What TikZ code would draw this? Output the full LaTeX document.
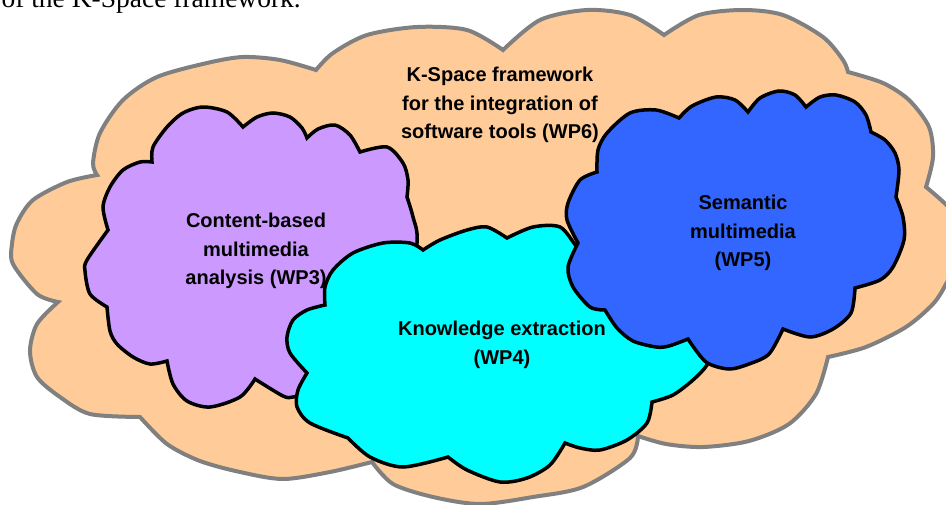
\documentclass[tikz,border=0pt]{standalone}
\usepackage{fontspec}
\usepackage{xcolor}
\setmainfont{Liberation Sans}
\newfontfamily\toptextfont{Liberation Serif}
\definecolor{framepeach}{HTML}{FFCC99}
\definecolor{framegray}{HTML}{808080}
\definecolor{wpviolet}{HTML}{CC99FF}
\definecolor{wpcyan}{HTML}{00FFFF}
\definecolor{wpblue}{HTML}{3366FF}

\begin{document}
\begin{tikzpicture}[x=1pt, y=-1pt,
    framecloud/.style={fill=framepeach, draw=framegray, line width=4pt, miter limit=3},
    wpcloud/.style={draw=black, line width=3.5pt, miter limit=3},
    wplabel/.style={font=\bfseries\fontsize{20}{28.5}\selectfont, align=center}]

  \useasboundingbox (0,0) rectangle (946,504);

  \node[anchor=base west, font=\toptextfont\fontsize{27.5}{30}\selectfont] (caption) at (-2,7)
    {of the K-Space framework.};

  \filldraw[framecloud] (316,70)
    -- plot[smooth] coordinates {(316,70) (333,53) (367,35) (417,27) (467,30) (503,50)}
    -- plot[smooth] coordinates {(503,50) (540,20) (587,10) (630,15) (664,35)}
    -- plot[smooth] coordinates {(664,35) (699,15) (743,10) (783,15) (823,37) (843,60) (848,72)}
    -- plot[smooth] coordinates {(848,72) (883,83) (909,100) (929,127) (933,157) (926,187)}
    -- plot[smooth] coordinates {(926,187) (955,215) (962,250) (946,284) (933,304) (906,327) (866,347) (828,357)}
    -- plot[smooth] coordinates {(828,357) (816,394) (789,424) (749,441) (703,447) (666,444) (638,436)}
    -- plot[smooth] coordinates {(638,436) (630,458) (583,487) (533,497) (480,504) (433,497) (393,484) (372,462)}
    -- plot[smooth] coordinates {(372,462) (330,472) (283,479) (240,472) (200,461) (167,444) (140,417)}
    -- plot[smooth] coordinates {(140,417) (90,414) (60,397) (37,377) (30,351) (37,324) (58,302)}
    -- plot[smooth] coordinates {(58,302) (37,294) (13,264) (12,244) (17,223) (33,200) (67,182) (97,175)}
    -- plot[smooth] coordinates {(97,175) (93,163) (100,133) (123,100) (157,77) (207,63) (243,57) (280,60) (316,70)}
    -- cycle;
  \node[wplabel] (wp6) at (500,105.3)
    {K-Space framework\\for the integration of\\software tools (WP6)};

  \filldraw[wpcloud, fill=wpviolet] (152,162)
    -- plot[smooth] coordinates {(152,162) (153,147) (167,127) (183,113) (203,107) (227,112) (243,127)}
    -- plot[smooth] coordinates {(243,127) (257,117) (273,113) (290,117) (302,128) (307,138)}
    -- plot[smooth] coordinates {(307,138) (318,129) (335,125) (350,135) (360,152)}
    -- plot[smooth] coordinates {(360,152) (387,147) (403,163) (408,180) (407,197)}
    -- plot[smooth] coordinates {(407,197) (413,217) (417,243) (405,320) (360,380) (315,392)}
    -- plot[smooth] coordinates {(315,392) (293,397) (283,396) (255,379)}
    -- plot[smooth] coordinates {(255,379) (240,397) (210,407) (187,401) (173,384) (167,361)}
    -- plot[smooth] coordinates {(167,361) (150,364) (133,357) (117,344) (110,331) (107,307)}
    -- plot[smooth] coordinates {(107,307) (90,294) (85,271) (87,260) (108,230)}
    -- plot[smooth] coordinates {(108,230) (103,207) (110,187) (123,170) (140,162) (152,162)}
    -- cycle;
  \node[wplabel] (wp3) at (256,251.3)
    {Content-based\\multimedia\\analysis (WP3)};

  \filldraw[wpcloud, fill=wpcyan] (325,305)
    -- plot[smooth] coordinates {(325,305) (325,287) (333,270) (353,253) (383,243) (410,243) (423,250)}
    -- plot[smooth] coordinates {(423,250) (440,240) (467,230) (487,227) (507,238)}
    -- plot[smooth] coordinates {(507,238) (533,227) (560,227) (577,247) (595,265)}
    -- plot[smooth] coordinates {(595,265) (680,290) (715,345)}
    -- plot[smooth] coordinates {(715,345) (707,365) (693,380) (673,395) (652,402)}
    -- plot[smooth] coordinates {(652,402) (647,423) (627,440) (600,450) (580,448) (565,443)}
    -- plot[smooth] coordinates {(565,443) (550,465) (527,478) (500,482) (467,470) (448,457)}
    -- plot[smooth] coordinates {(448,457) (403,467) (370,457) (348,438)}
    -- plot[smooth] coordinates {(348,438) (310,423) (297,407) (298,390) (307,373)}
    -- plot[smooth] coordinates {(307,373) (290,353) (287,337) (293,320) (307,310) (325,305)}
    -- cycle;
  \node[wplabel] (wp4) at (502,345)
    {Knowledge extraction\\(WP4)};

  \filldraw[wpcloud, fill=wpblue] (597,172)
    -- plot[smooth] coordinates {(597,172) (598,150) (607,133) (630,113) (656,110) (679,118)}
    -- plot[smooth] coordinates {(679,118) (692,106) (716,97) (735,100) (748,112)}
    -- plot[smooth] coordinates {(748,112) (760,98) (779,91) (795,95) (806,107)}
    -- plot[smooth] coordinates {(806,107) (820,97) (836,95) (855,102) (866,115) (871,132)}
    -- plot[smooth] coordinates {(871,132) (885,140) (895,153) (899,170) (896,197)}
    -- plot[smooth] coordinates {(896,197) (903,217) (904,240) (893,267) (880,280) (855,288)}
    -- plot[smooth] coordinates {(855,288) (851,313) (833,329) (810,337) (783,329)}
    -- plot[smooth] coordinates {(783,329) (769,354) (749,364) (729,369) (706,362) (688,339)}
    -- plot[smooth] coordinates {(688,339) (669,346) (656,347) (633,341) (617,328) (605,310)}
    -- plot[smooth] coordinates {(605,310) (590,307) (573,287) (568,267) (578,243)}
    -- plot[smooth] coordinates {(578,243) (567,220) (568,203) (580,180) (597,172)}
    -- cycle;
  \node[wplabel] (wp5) at (743,233.3)
    {Semantic\\multimedia\\(WP5)};
\end{tikzpicture}
\end{document}
